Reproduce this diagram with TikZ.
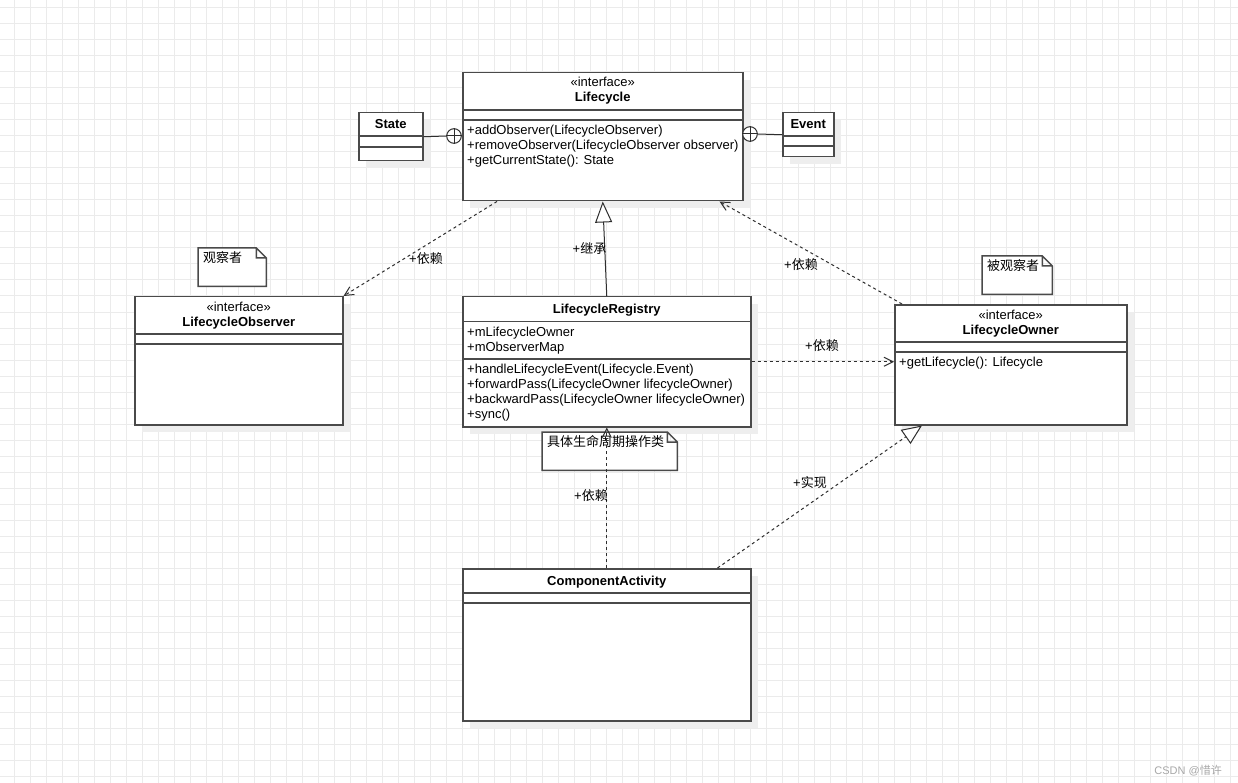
\documentclass[tikz,border=0pt]{standalone}
\usepackage{fontspec}
\setmainfont{Liberation Sans}
\newfontfamily\cjk{Noto Sans CJK SC}
\usepackage{tikz}
\usetikzlibrary{positioning,calc,arrows.meta,shadows}

\definecolor{gridgray}{HTML}{EBEBEB}
\definecolor{boxline}{HTML}{4A4A4A}
\definecolor{linecol}{HTML}{2E2E2E}
\definecolor{shadowgray}{HTML}{EEEEEE}
\definecolor{wmgray}{HTML}{A8A8A8}

\tikzset{
  gridline/.style={draw=gridgray, line width=1pt},
  classbox/.style={draw=boxline, line width=1.5pt, fill=white, anchor=north west, inner sep=0pt,
    drop shadow={shadow xshift=7pt, shadow yshift=-7pt, fill=shadowgray, opacity=1}},
  sepline/.style={draw=boxline, line width=1.5pt},
  stereo/.style={anchor=base, inner sep=0pt},
  title/.style={anchor=base, inner sep=0pt, font=\fontsize{13}{15}\selectfont\bfseries},
  members/.style={anchor=base west, align=left, inner sep=0pt},
  notebox/.style={anchor=north west, inner sep=0pt},
  noteline/.style={draw=boxline, line width=1.5pt, fill=white},
  notetext/.style={anchor=base west, inner sep=0pt},
  nest/.style={circle, draw=linecol, line width=1pt, fill=white, minimum size=14.6pt, inner sep=0pt},
  lbl/.style={inner sep=0pt},
  dep/.style={draw=linecol, line width=1pt, dash pattern=on 3pt off 3pt,
    -{Straight Barb[length=9pt,width=9pt]}},
  inh/.style={draw=linecol, line width=1pt, -{Triangle[length=21pt,width=17pt,fill=white]}},
  real/.style={draw=linecol, line width=1pt, dash pattern=on 3pt off 3pt,
    -{Triangle[length=20pt,width=17pt,fill=white]}}
}

\begin{document}
\begin{tikzpicture}[x=1pt, y=-1pt, font=\fontsize{13}{15}\selectfont]
    % Canvas
    \fill[white] (0,0) rectangle (1238,783);
    \useasboundingbox (0,0) rectangle (1238,783);
    \foreach \x in {14,30,...,1238} \draw[gridline] (\x,0) -- (\x,783);
    \foreach \y in {8,24,...,783} \draw[gridline] (0,\y) -- (1238,\y);

    % Classes
    \node[classbox, minimum width=280, minimum height=128] (lc) at (462,72) {};
    \node[classbox, minimum width=64, minimum height=48] (st) at (358,112) {};
    \node[classbox, minimum width=51, minimum height=44] (ev) at (782,112) {};
    \node[classbox, minimum width=208, minimum height=128] (obs) at (134,296) {};
    \node[classbox, minimum width=288, minimum height=130] (reg) at (462,296) {};
    \node[classbox, minimum width=232, minimum height=120] (own) at (894,304) {};
    \node[classbox, minimum width=288, minimum height=152] (comp) at (462,568) {};

    % Compartments
    \foreach \n/\a/\b in {lc/38/48, st/24/35, ev/24/34, obs/38/48, reg/25.5/63, own/38/48, comp/25/35} {
        \draw[sepline] ($(\n.north west)+(0,\a)$) -- ($(\n.north east)+(0,\a)$);
        \draw[sepline] ($(\n.north west)+(0,\b)$) -- ($(\n.north east)+(0,\b)$);
    }

    % Lifecycle (base of a multi-line node = last line)
    \node[stereo] (lcS) at ($(lc.north)+(0,15)$) {«interface»};
    \node[title] (lcT) at ($(lc.north)+(0,30)$) {Lifecycle};
    \node[members] (lcM) at ($(lc.north west)+(5,93)$)
        {+addObserver(LifecycleObserver)\\+removeObserver(LifecycleObserver observer)\\+getCurrentState(): State};
    \node[title] (stT) at ($(st.north)+(0,17)$) {State};
    \node[title] (evT) at ($(ev.north)+(0,17)$) {Event};

    % Nested State / Event
    \node[nest] (stC) at (454,136) {};
    \node[nest] (evC) at (750,134) {};
    \foreach \c in {stC,evC}
        \draw[linecol, line width=1pt] (\c.north) -- (\c.south) (\c.west) -- (\c.east);
    \draw[linecol, line width=1pt] (st.east) -- (stC.west);
    \draw[linecol, line width=1pt] (evC.east) -- (ev.west);

    % Observer
    \node[stereo] (obsS) at ($(obs.north)+(0,15)$) {«interface»};
    \node[title] (obsT) at ($(obs.north)+(0,30)$) {LifecycleObserver};

    % Registry
    \node[title] (regT) at ($(reg.north)+(0,17)$) {LifecycleRegistry};
    \node[members] (regF) at ($(reg.north west)+(5,55)$) {+mLifecycleOwner\\+mObserverMap};
    \node[members] (regM) at ($(reg.north west)+(5,122.5)$)
        {+handleLifecycleEvent(Lifecycle.Event)\\+forwardPass(LifecycleOwner lifecycleOwner)\\+backwardPass(LifecycleOwner lifecycleOwner)\\+sync()};

    % Owner
    \node[stereo] (ownS) at ($(own.north)+(0,15)$) {«interface»};
    \node[title] (ownT) at ($(own.north)+(0,30)$) {LifecycleOwner};
    \node[members] (ownM) at ($(own.north west)+(5,62.5)$) {+getLifecycle(): Lifecycle};

    % ComponentActivity
    \node[title] (compT) at ($(comp.north)+(0,17)$) {ComponentActivity};

    % Notes
    \node[notebox, minimum width=68, minimum height=38] (nObs) at (198,248) {};
    \node[notebox, minimum width=70, minimum height=38] (nOwn) at (982,256) {};
    \node[notebox, minimum width=135, minimum height=38] (nReg) at (542,432) {};
    \foreach \n in {nObs,nOwn,nReg}
        \draw[noteline] (\n.north west) -- ($(\n.north east)+(-10,0)$) -- ($(\n.north east)+(0,10)$)
            -- (\n.south east) -- (\n.south west) -- cycle
            ($(\n.north east)+(-10,0)$) -- ($(\n.north east)+(-10,10)$) -- ($(\n.north east)+(0,10)$);
    \node[notetext] (nObsT) at ($(nObs.north west)+(5,15)$) {\cjk 观察者};
    \node[notetext] (nOwnT) at ($(nOwn.north west)+(5,15)$) {\cjk 被观察者};
    \node[notetext] (nRegT) at ($(nReg.north west)+(5,14.5)$) {\cjk 具体生命周期操作类};

    % Relations
    \draw[dep] ($(lc.south west)+(35,0)$) -- (obs.north east);
    \draw[inh] (reg.north) -- (lc.south);
    \draw[dep] ($(own.north west)+(8,0)$) -- ($(lc.south east)+(-24,0)$);
    \draw[dep] (reg.east) -- (reg.east -| own.west);
    \draw[dep] (comp.north) -- (reg.south);
    \draw[real] ($(comp.north east)+(-34,0)$) -- ($(own.south west)+(28,0)$);

    % Labels
    \node[lbl] (lbObs) at (426,259) {+{\cjk 依赖}};
    \node[lbl] (lbInh) at (589.5,248) {+{\cjk 继承}};
    \node[lbl] (lbOwn) at (801,265) {+{\cjk 依赖}};
    \node[lbl] (lbReg) at (822,346) {+{\cjk 依赖}};
    \node[lbl] (lbComp) at (591,496) {+{\cjk 依赖}};
    \node[lbl] (lbReal) at (810,483) {+{\cjk 实现}};

    % Watermark
    \node[anchor=base east, inner sep=0pt, text=wmgray, font=\fontsize{11}{13}\selectfont] (wm) at (1222,774) {CSDN @{\cjk 惜许}};
\end{tikzpicture}
\end{document}
